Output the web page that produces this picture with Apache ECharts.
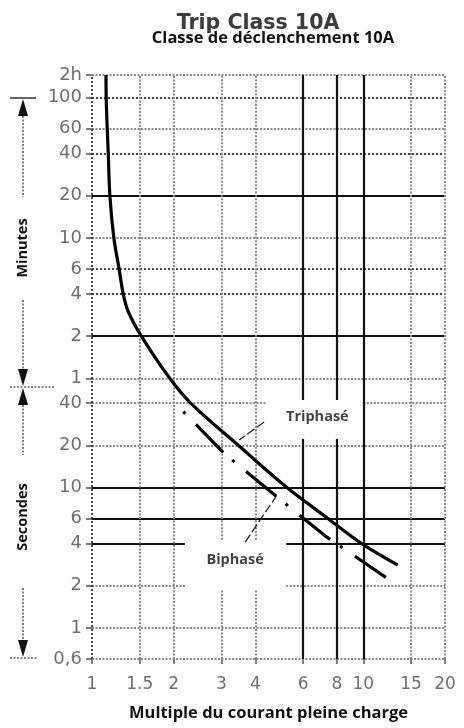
<!DOCTYPE html>
<html>
<head>
<meta charset="utf-8">
<script src="https://cdn.jsdelivr.net/npm/echarts@6/dist/echarts.min.js"></script>
<style>
html,body{margin:0;padding:0;background:#fff;}
#chart{width:464px;height:728px;}
</style>
</head>
<body>
<div id="chart"></div>
<script>
// ---------- data ----------
// x: multiple of full-load current; y: trip time in seconds
const xTickValues = [1, 1.5, 2, 3, 4, 6, 8, 10, 15, 20];
const xTickLabels = ['1', '1.5', '2', '3', '4', '6', '8', '10', '15', '20'];
const yTickValues = [8700, 6000, 3600, 2400, 1200, 600, 360, 240, 120, 60, 40, 20, 10, 6, 4, 2, 1, 0.6];
const yTickLabels = ['2h', '100', '60', '40', '20', '10', '6', '4', '2', '1', '40', '20', '10', '6', '4', '2', '1', '0,6'];

const triphaseX = [1.126, 1.128, 1.138, 1.148, 1.164, 1.204, 1.259, 1.303, 1.359, 1.52, 1.935, 2.31, 3.46, 5.23, 7.42, 9.83, 13.4];
const triphaseY = [8700, 6000, 3600, 2400, 1200, 600, 360, 240, 180, 120, 60, 40, 20, 10, 6, 4, 2.8];
const biphaseX = [2.17, 3.10, 4.78, 7.25, 12.1];
const biphaseY = [34.8, 17.2, 8.64, 4.51, 2.29];

const labelNames = ['Triphasé', 'Biphasé'];
const labelX = [6.77, 3.37];
const labelY = [31.9, 3.05];
const triLeaderX = [4.31, 3.49];
const triLeaderY = [29.3, 21.8];
const biLeaderX = [3.67, 4.78];
const biLeaderY = [4.09, 8.7];

// grid line kinds: 's' solid black, 'd' dotted dark, 'g' dotted gray
const yGridKind = ['g', 'd', 'g', 'd', 's', 'g', 'd', 'd', 's', 'g', 'g', 'g', 's', 's', 's', 'g', 'g', 'g'];
const xGridKind = ['d', 'g', 'g', 'g', 'g', 's', 's', 's', 'g', 'g'];
// interruptions of grid lines behind the labels [from, to]
const yGridGaps = { 40: [4.4, 10], 4: [2.2, 5.2], 2: [2.2, 5.2] };
const xGridGaps = { 3: [1.88, 4.25], 4: [1.88, 4.25], 6: [22.2, 42], 8: [22.2, 42] };

const X_MIN = 1, X_MAX = 20, Y_MIN = 0.6, Y_MAX = 8700;

// ---------- styles ----------
const styles = {
  s: { color: '#111', width: 2.2, type: 'solid' },
  d: { color: '#333', width: 1.8, type: [2, 2] },
  g: { color: '#8f8787', width: 2, type: [2, 1.5] }
};

function zip(a, b) { return a.map((v, i) => [v, b[i]]); }

const markData = [];
yTickValues.forEach((v, i) => {
  const st = styles[yGridKind[i]];
  const gap = yGridGaps[v];
  if (gap) {
    markData.push([{ coord: [X_MIN, v], lineStyle: st }, { coord: [gap[0], v] }]);
    markData.push([{ coord: [gap[1], v], lineStyle: st }, { coord: [X_MAX, v] }]);
  } else {
    markData.push([{ coord: [X_MIN, v], lineStyle: st }, { coord: [X_MAX, v] }]);
  }
});
xTickValues.forEach((v, i) => {
  const st = styles[xGridKind[i]];
  const gap = xGridGaps[v];
  if (gap) {
    markData.push([{ coord: [v, Y_MIN], lineStyle: st }, { coord: [v, gap[0]] }]);
    markData.push([{ coord: [v, gap[1]], lineStyle: st }, { coord: [v, Y_MAX] }]);
  } else {
    markData.push([{ coord: [v, Y_MIN], lineStyle: st }, { coord: [v, Y_MAX] }]);
  }
});

function labelFor(values, labels) {
  return function (v) {
    for (let i = 0; i < values.length; i++) {
      if (Math.abs(Math.log(v) - Math.log(values[i])) < 1e-4) return labels[i];
    }
    return '';
  };
}

const chart = echarts.init(document.getElementById('chart'), null, { renderer: 'canvas' });

// left-side bracket decoration (Minutes / Secondes)
const ax = 23;
function arrowUp(tipY) { return { type: 'polygon', shape: { points: [[ax, tipY], [ax - 5, tipY + 17], [ax + 5, tipY + 17]] }, style: { fill: '#111' } }; }
function arrowDown(tipY) { return { type: 'polygon', shape: { points: [[ax, tipY], [ax - 5, tipY - 17], [ax + 5, tipY - 17]] }, style: { fill: '#111' } }; }
function vdots(y1, y2) { return { type: 'line', shape: { x1: ax, y1: y1, x2: ax, y2: y2 }, style: { stroke: '#555', lineWidth: 1.5, lineDash: [2, 1.5] } }; }

const boldFont = 'Open Sans';
const option = {
  animation: false,
  backgroundColor: '#fff',
  title: [
    { text: 'Trip Class 10A', left: 253, top: 8, textAlign: 'center',
      textStyle: { fontFamily: 'DejaVu Sans', fontWeight: 'bold', fontSize: 20.5, color: '#3c3c3c' } },
    { text: 'Classe de déclenchement 10A', left: 268, top: 25, textAlign: 'center',
      textStyle: { fontFamily: boldFont, fontWeight: 'bold', fontSize: 16.5, color: '#111' } }
  ],
  grid: { left: 92, right: 19, top: 75, bottom: 69, containLabel: false },
  xAxis: {
    type: 'log', logBase: 10, min: X_MIN, max: X_MAX,
    name: 'Multiple du courant pleine charge', nameLocation: 'middle', nameGap: 46,
    nameTextStyle: { fontFamily: boldFont, fontWeight: 'bold', fontSize: 16.5, color: '#111' },
    axisLine: { show: false },
    splitLine: { show: false },
    minorSplitLine: { show: false },
    axisTick: { show: true, length: 5, customValues: xTickValues, lineStyle: { color: '#555', width: 1.5 } },
    axisLabel: { customValues: xTickValues, formatter: labelFor(xTickValues, xTickLabels), margin: 17,
      fontFamily: 'DejaVu Sans', fontSize: 17, color: '#6f6f6f' }
  },
  yAxis: {
    type: 'log', logBase: 10, min: Y_MIN, max: Y_MAX,
    axisLine: { show: false },
    splitLine: { show: false },
    minorSplitLine: { show: false },
    axisTick: { show: true, length: 6, customValues: yTickValues, lineStyle: { color: '#555', width: 1.5 } },
    axisLabel: { customValues: yTickValues, formatter: labelFor(yTickValues, yTickLabels), margin: 10,
      fontFamily: 'DejaVu Sans', fontSize: 18, color: '#6f6f6f' }
  },
  graphic: [
    { type: 'line', shape: { x1: 10, y1: 98, x2: 36, y2: 98 }, style: { stroke: '#333', lineWidth: 1.5 } },
    arrowUp(99), vdots(116, 197),
    { type: 'text', x: ax, y: 248, rotation: Math.PI / 2,
      style: { text: 'Minutes', font: 'bold 14.5px "Open Sans"', fill: '#111', align: 'center', verticalAlign: 'middle' } },
    vdots(300, 369), arrowDown(386),
    { type: 'line', shape: { x1: 10, y1: 387, x2: 55, y2: 387 }, style: { stroke: '#8f8787', lineWidth: 2, lineDash: [2, 1.5] } },
    arrowUp(388), vdots(405, 455),
    { type: 'text', x: ax, y: 517, rotation: Math.PI / 2,
      style: { text: 'Secondes', font: 'bold 14.5px "Open Sans"', fill: '#111', align: 'center', verticalAlign: 'middle' } },
    vdots(588, 640), arrowDown(657),
    { type: 'line', shape: { x1: 10, y1: 658, x2: 38, y2: 658 }, style: { stroke: '#8f8787', lineWidth: 2, lineDash: [2, 1.5] } }
  ],
  series: [
    {
      name: 'grid', type: 'line', data: [], z: 1, silent: true,
      markLine: { z: 1, silent: true, symbol: ['none', 'none'], label: { show: false }, animation: false, data: markData }
    },
    {
      name: 'Triphasé', type: 'line', z: 5, data: zip(triphaseX, triphaseY), smooth: 0.35,
      showSymbol: false, symbol: 'none', lineStyle: { color: '#000', width: 3.2 }
    },
    {
      name: 'Biphasé', type: 'line', z: 5, data: zip(biphaseX, biphaseY), smooth: false,
      showSymbol: false, symbol: 'none', lineStyle: { color: '#000', width: 3.2, type: [3, 15, 39, 12], cap: 'butt' }
    },
    {
      name: 'leaderTri', type: 'line', z: 5, data: zip(triLeaderX, triLeaderY), symbol: 'none',
      lineStyle: { color: '#222', width: 1.3, type: [9, 3] }
    },
    {
      name: 'leaderBi', type: 'line', z: 5, data: zip(biLeaderX, biLeaderY), symbol: 'none',
      lineStyle: { color: '#222', width: 1.3, type: [9, 3] }
    },
    {
      name: 'labels', type: 'scatter', z: 6, symbolSize: 0,
      data: labelNames.map((n, i) => ({ name: n, value: [labelX[i], labelY[i]] })),
      label: { show: true, position: 'inside', formatter: '{b}',
        fontFamily: boldFont, fontWeight: 'bold', fontSize: 14.5, color: '#111' }
    }
  ]
};
chart.setOption(option);
</script>
</body>
</html>
